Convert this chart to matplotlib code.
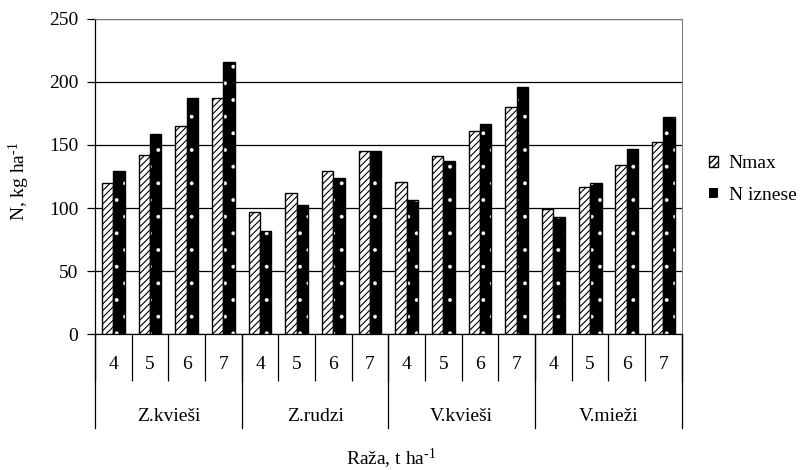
import numpy as np
import matplotlib as mpl
import matplotlib.pyplot as plt
from matplotlib.transforms import blended_transform_factory

plt.rcParams['font.family'] = ['Liberation Serif', 'DejaVu Serif']
plt.rcParams['mathtext.fontset'] = 'custom'
plt.rcParams['mathtext.rm'] = 'Liberation Serif'
plt.rcParams['mathtext.default'] = 'regular'

# dati
groups = ["Z.kvieši", "Z.rudzi", "V.kvieši", "V.mieži"]
yields = ["4", "5", "6", "7"]
n_max = [120, 142, 165, 187, 97, 112, 129, 145, 121, 141, 161, 180, 99, 117, 134, 152]
n_iznese = [129, 159, 187, 216, 82, 102, 124, 145, 106, 137, 167, 196, 93, 120, 147, 172]

n = len(n_max)
x = np.arange(n)
w = 0.31
fs = 14

fig = plt.figure(figsize=(8.05, 4.70), dpi=100)
ax = fig.add_axes([0.118, 0.289, 0.729, 0.671])

with mpl.rc_context({'hatch.linewidth': 0.8}):
    b1 = ax.bar(x - w / 2, n_max, w, color="white", edgecolor="black",
                hatch="/////", linewidth=1.0, label="Nmax", zorder=3)
with mpl.rc_context({'hatch.linewidth': 0.3}):
    b2 = ax.bar(x + w / 2, n_iznese, w, color="black", edgecolor="white",
                hatch=".", linewidth=0, label="N iznese", zorder=3)
# kontūra melnajiem stabiņiem
ax.bar(x + w / 2, n_iznese, w, fill=False, edgecolor="black", linewidth=1.0, zorder=4)

ax.set_xlim(-0.5, n - 0.5)
ax.set_ylim(0, 250)
ax.set_yticks(np.arange(0, 251, 50))
ax.yaxis.grid(True, color="black", linewidth=0.9, zorder=0)
ax.tick_params(axis="y", labelsize=fs, length=6, pad=6, direction="out", width=0.9)

for s in ["top", "right"]:
    ax.spines[s].set_color("#808080")
ax.spines["left"].set_linewidth(0.9)
ax.spines["bottom"].set_linewidth(0.9)

# divlīmeņu kategoriju ass
bounds = np.arange(-0.5, n, 1.0)
ax.set_xticks(bounds)
ax.set_xticklabels([])
ax.tick_params(axis="x", which="major", length=34, width=0.9, direction="out")
ax.set_xticks(x, minor=True)
ax.set_xticklabels(yields * len(groups), minor=True, fontsize=fs)
ax.tick_params(axis="x", which="minor", length=0, pad=16)

tr = blended_transform_factory(ax.transData, ax.transAxes)
k = len(yields)
for i, g in enumerate(groups):
    left = i * k - 0.5
    ax.plot([left, left], [0, -0.298], transform=tr, color="black",
            linewidth=0.9, clip_on=False)
    ax.text(left + k / 2, -0.26, g, transform=tr, ha="center", va="center",
            fontsize=fs, family="Liberation Serif")
ax.plot([n - 0.5, n - 0.5], [0, -0.298], transform=tr, color="black",
        linewidth=0.9, clip_on=False)

fig.text(0.024, 0.615, "N, kg ha$^{\u2010 1}$", rotation=90, ha="center",
         va="center", fontsize=fs, family="Liberation Serif")
fig.text(0.486, 0.011, "Raža, t ha$^{\u2010 1}$", ha="center",
         va="baseline", fontsize=fs, family="Liberation Serif")

ax.legend(handles=[b1, b2], loc="center left", bbox_to_anchor=(0.881, 0.618),
          bbox_transform=fig.transFigure, frameon=False,
          prop={"family": "Liberation Serif", "size": fs},
          borderpad=0, borderaxespad=0,
          handlelength=0.45, handleheight=0.45, handletextpad=0.55, labelspacing=0.75)

fig.savefig("out.png", dpi=100)
